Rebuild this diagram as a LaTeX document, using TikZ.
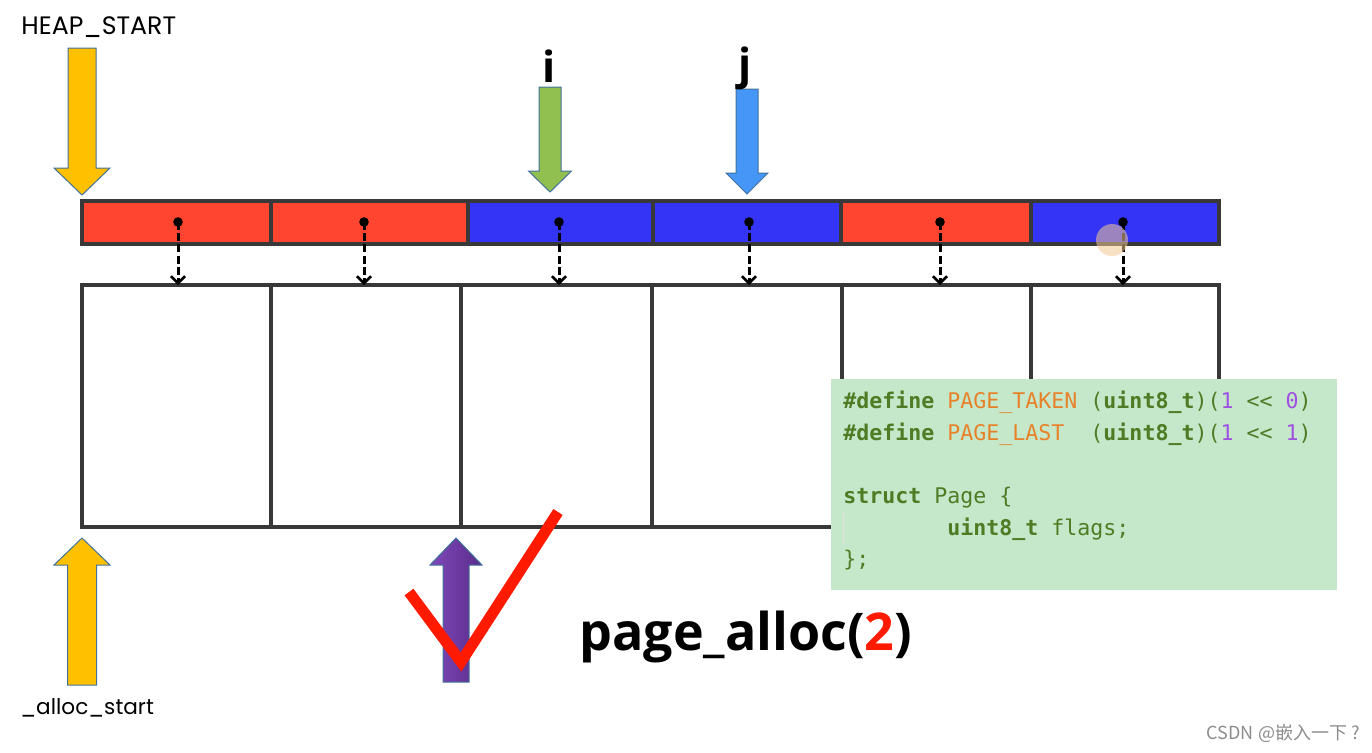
\documentclass[tikz,border=0pt]{standalone}
\usepackage{fontspec}
\setmainfont{Poppins}
\newfontfamily\codefont{DejaVu Sans Mono}
\newfontfamily\boldsans{Open Sans}
\newfontfamily\cjk{Noto Sans CJK SC}
\usetikzlibrary{arrows.meta}
\definecolor{cellred}{HTML}{FF4530}
\definecolor{cellblue}{HTML}{3434F6}
\definecolor{edge}{HTML}{383838}
\definecolor{amber}{HTML}{FFC000}
\definecolor{leaf}{HTML}{92C050}
\definecolor{sky}{HTML}{4696F8}
\definecolor{plumL}{HTML}{7E48B8}
\definecolor{plumR}{HTML}{5A2C8C}
\definecolor{rim}{HTML}{41719C}
\definecolor{tick}{HTML}{FF1A00}
\definecolor{codebg}{HTML}{C5E8CB}
\definecolor{codegreen}{HTML}{4E7C24}
\definecolor{codeorange}{HTML}{E8822A}
\definecolor{codepurple}{HTML}{A050E0}
\definecolor{glow}{HTML}{F2C890}
\newcommand\blockarrow[7]{% style, cx, end y, head base y, tip y, shaft half, head half
  \draw[#1] ({#2-#6},#3) -- ({#2+#6},#3) -- ({#2+#6},#4) -- ({#2+#7},#4) -- (#2,#5)
    -- ({#2-#7},#4) -- ({#2-#6},#4) -- cycle;}
\newcommand\barcell[4]{\node[barcellst, fill=#4, minimum width={(#2-#1)*0.5pt}] (#3) at ({(#1+#2)/2},222.5) {};}
\newcommand\pagebox[3]{\node[pageboxst, minimum width={(#2-#1)*0.5pt}] (#3) at ({(#1+#2)/2},406) {};}
\tikzset{
  barcellst/.style={draw=edge, line width=2pt, minimum height=21.5pt, inner sep=0pt, outer sep=0pt},
  pageboxst/.style={draw=edge, line width=2pt, minimum height=121pt, inner sep=0pt, outer sep=0pt},
  conn/.style={line width=1.5pt, dash pattern=on 4pt off 1.6pt, -{Straight Barb[length=3.5pt, width=7pt, line width=1.3pt]}},
  blk/.style={draw=rim, line width=0.5pt},
  ij/.style={font=\boldsans\bfseries\fontsize{21.5}{24}\selectfont, inner sep=0pt},
  code/.style={font=\codefont\fontsize{10.8}{13}\selectfont, anchor=base west, inner sep=0pt, text=codegreen},
}
\begin{document}
\begin{tikzpicture}[x=0.5pt,y=-0.5pt]
\useasboundingbox (0,0) rectangle (1372,752);
% top bar
\barcell{82}{271}{t1}{cellred}
\barcell{271}{468}{t2}{cellred}
\barcell{468}{653}{t3}{cellblue}
\barcell{653}{841}{t4}{cellblue}
\barcell{841}{1031}{t5}{cellred}
\barcell{1031}{1219}{t6}{cellblue}
% page boxes
\pagebox{82}{271}{b1}
\pagebox{271}{461}{b2}
\pagebox{461}{652}{b3}
\pagebox{652}{842}{b4}
\pagebox{842}{1031}{b5}
\pagebox{1031}{1219}{b6}
% dot coordinates
\coordinate (d1) at (178,222);
\coordinate (d2) at (364,222);
\coordinate (d3) at (559,222);
\coordinate (d4) at (749,222);
\coordinate (d5) at (940,222);
\coordinate (d6) at (1123,222);
\foreach \k in {1,...,6}{
  \fill (d\k) circle (2.4pt);
  \draw[conn] (d\k) -- (d\k |- b\k.north);
}
% cursor highlight
\fill[glow, opacity=0.55] (1112,240) circle (8pt);
% code box
\node[fill=codebg, minimum width=253pt, minimum height=105.5pt, inner sep=0pt, anchor=north west] (codebox) at (831,379) {};
\draw[black!12, line width=0.4pt] (843,512) -- (843,545);
\node[code] (c1) at (843,408) {\textbf{\#define} \textcolor{codeorange}{PAGE\_TAKEN} (\textbf{uint8\_t})(\textcolor{codepurple}{1} <{}< \textcolor{codepurple}{0})};
\node[code] (c2) at (843,440) {\textbf{\#define} \textcolor{codeorange}{PAGE\_LAST}~ (\textbf{uint8\_t})(\textcolor{codepurple}{1} <{}< \textcolor{codepurple}{1})};
\node[code] (c3) at (843,503) {\textbf{struct} Page \{};
\node[code] (c4) at (947,535) {\textbf{uint8\_t} flags;};
\node[code] (c5) at (843,566) {\};};
% top arrows
\blockarrow{blk, fill=amber}{82}{48}{168}{195}{14}{28}
\blockarrow{blk, fill=leaf}{550}{87}{171}{192}{11}{21.5}
\blockarrow{blk, fill=sky}{747}{89}{173}{194}{11}{21}
% bottom arrows
\blockarrow{blk, fill=amber}{82}{685}{565}{538}{14.5}{28}
\blockarrow{blk, left color=plumL, right color=plumR}{456}{682}{565}{538}{13}{26}
% check mark
\draw[tick, line width=5.5pt, line join=miter] (409,592) -- (461,662) -- (558,512);
% labels
\node[font=\fontsize{12.6}{15}\selectfont, inner sep=0pt, anchor=west] (heap) at (21,27) {HEAP\_START};
\node[font=\fontsize{10.8}{14}\selectfont, inner sep=0pt, anchor=west] (alloc) at (20,708) {\_alloc\_start};
\node[ij] (li) at (549,66) {i};
\node[ij] (lj) at (745,68) {j};
\node[font=\boldsans\bfseries\fontsize{26}{30}\selectfont, inner sep=0pt, anchor=west] (call) at (579,637) {page\_alloc(\textcolor{tick}{2})};
\node[font=\cjk\fontsize{9}{11}\selectfont, text=black!45, anchor=east, inner sep=0pt] (wm) at (1360,733) {CSDN @嵌入一下 ?};
\end{tikzpicture}
\end{document}
